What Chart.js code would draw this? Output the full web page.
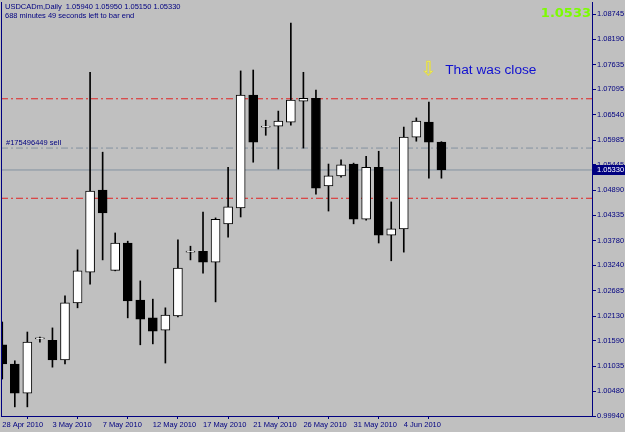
<!DOCTYPE html>
<html>
<head>
<meta charset="utf-8">
<script src="https://cdn.jsdelivr.net/npm/chart.js@4.4.0/dist/chart.umd.min.js"></script>
<style>
    html, body { margin: 0; padding: 0; background: #c0c0c0; }
    #contenedor { width: 625px; height: 432px; }
</style>
</head>
<body>
<div id="contenedor"><canvas id="graficaUsdCad" width="625" height="432"></canvas></div>
<script>
const simbolo = 'USDCADm';
const periodo = 'Daily';

// Una vela por dia (MT4 incluye las velas de domingo)
const fechas = [
    '28 Apr 2010', '29 Apr 2010', '30 Apr 2010', '2 May 2010', '3 May 2010', '4 May 2010', '5 May 2010', '6 May 2010',
    '7 May 2010', '9 May 2010', '10 May 2010', '11 May 2010', '12 May 2010', '13 May 2010', '14 May 2010', '16 May 2010',
    '17 May 2010', '18 May 2010', '19 May 2010', '20 May 2010', '21 May 2010', '23 May 2010', '24 May 2010', '25 May 2010',
    '26 May 2010', '27 May 2010', '28 May 2010', '30 May 2010', '31 May 2010', '1 Jun 2010', '2 Jun 2010', '3 Jun 2010',
    '4 Jun 2010', '6 Jun 2010', '7 Jun 2010', '8 Jun 2010'
];

const apertura = [1.0150, 1.0108, 1.0044, 1.0163, 1.0160, 1.0117, 1.0242, 1.0309, 1.0489, 1.0313, 1.0373, 1.0248,
    1.0209, 1.0182, 1.0213, 1.0353, 1.0355, 1.0331, 1.0415, 1.0450, 1.0697, 1.0627, 1.0629, 1.0638,
    1.0684, 1.0690, 1.0498, 1.0520, 1.0546, 1.0425, 1.0539, 1.0390, 1.0404, 1.0605, 1.0638, 1.0594];
const maximo = [1.0200, 1.0115, 1.0178, 1.0167, 1.0187, 1.0257, 1.0358, 1.0747, 1.0572, 1.0395, 1.0377, 1.0290,
    1.0250, 1.0231, 1.0380, 1.0366, 1.0441, 1.0428, 1.0539, 1.0750, 1.0752, 1.0642, 1.0662, 1.0855,
    1.0747, 1.0708, 1.0546, 1.0555, 1.0548, 1.0563, 1.0574, 1.0463, 1.0627, 1.0647, 1.0682, 1.0595];
const minimo = [1.0075, 1.0014, 1.0014, 1.0156, 1.0101, 1.0108, 1.0231, 1.0283, 1.0336, 1.0312, 1.0209, 1.0150,
    1.0152, 1.0110, 1.0211, 1.0336, 1.0307, 1.0244, 1.0386, 1.0430, 1.0550, 1.0609, 1.0535, 1.0631,
    1.0581, 1.0480, 1.0443, 1.0517, 1.0415, 1.0423, 1.0373, 1.0334, 1.0353, 1.0596, 1.0515, 1.0515];
const cierre = [1.0108, 1.0044, 1.0156, 1.0163, 1.0117, 1.0242, 1.0312, 1.0487, 1.0439, 1.0373, 1.0246, 1.0206,
    1.0180, 1.0215, 1.0318, 1.0353, 1.0331, 1.0425, 1.0452, 1.0697, 1.0594, 1.0627, 1.0640, 1.0686,
    1.0690, 1.0493, 1.0520, 1.0544, 1.0425, 1.0539, 1.0390, 1.0404, 1.0605, 1.0640, 1.0594, 1.0533];

// Etiquetas del eje de precios tal como las pone MT4
const etiquetasPrecio = [1.08745, 1.08190, 1.07635, 1.07095, 1.06540, 1.05985, 1.05445, 1.04890, 1.04335,
    1.03780, 1.03240, 1.02685, 1.02130, 1.01590, 1.01035, 1.00480, 0.99940];

// Niveles de la orden
const nivelStop = 1.0689;
const nivelProfit = 1.0471;
const nivelOrden = 1.0581;
const numeroOrden = '#175496449 sell';
const textoNota = 'That was close';
const posicionNota = { x: 35.3, y: 1.0752 };

const ultimo = cierre.length - 1;
const precioBid = cierre[ultimo];
const azulMT4 = '#000080';
const fuenteEje = { family: 'Liberation Sans, Arial, sans-serif', size: 7.5 };
const xMin = -0.1;
const xMax = 47;

const indices = fechas.map((f, i) => i);
const posicionesFechas = indices.filter(i => i % 4 === 0);

function colorVela(ctx) {
    const i = ctx.dataIndex;
    return cierre[i] >= apertura[i] ? '#ffffff' : '#000000';
}

function lineaNivel(valor, color, guiones) {
    return {
        type: 'line',
        data: [{ x: xMin, y: valor }, { x: xMax, y: valor }],
        borderColor: color,
        borderWidth: 1,
        borderDash: guiones,
        pointRadius: 0,
        order: 3
    };
}

const textosMT4 = {
    id: 'textosMT4',
    beforeDraw(chart) {
        const c = chart.ctx;
        c.save();
        c.fillStyle = '#c0c0c0';
        c.fillRect(0, 0, chart.width, chart.height);
        c.restore();
    },
    afterDraw(chart) {
        const c = chart.ctx;
        const area = chart.chartArea;
        const sx = chart.scales.x;
        const sy = chart.scales.y;
        c.save();

        // borde izquierdo
        c.strokeStyle = azulMT4;
        c.lineWidth = 1;
        c.beginPath();
        c.moveTo(area.left + 0.5, area.top);
        c.lineTo(area.left + 0.5, area.bottom);
        c.stroke();

        // encabezado
        c.fillStyle = azulMT4;
        c.font = '7.5px "Liberation Sans", Arial, sans-serif';
        c.textBaseline = 'middle';
        c.textAlign = 'left';
        const ohlc = [apertura[ultimo], maximo[ultimo], minimo[ultimo], cierre[ultimo]].map(v => v.toFixed(5)).join(' ');
        c.fillText(simbolo + ',' + periodo + '  ' + ohlc, 5, 7);
        c.fillText('688 minutes 49 seconds left to bar end', 5, 16);

        // etiqueta de la orden
        c.fillText(numeroOrden, 6, sy.getPixelForValue(nivelOrden) - 5);

        // precio grande
        c.fillStyle = '#7cfc00';
        c.font = 'bold 13px "DejaVu Sans", sans-serif';
        c.textAlign = 'right';
        c.fillText(precioBid.toFixed(4), area.right - 1, 14);

        // nota
        const nx = sx.getPixelForValue(posicionNota.x);
        const ny = sy.getPixelForValue(posicionNota.y);
        c.textAlign = 'left';
        c.font = '13.7px "Liberation Sans", Arial, sans-serif';
        c.fillStyle = '#1010d0';
        c.fillText(textoNota, nx, ny);
        c.font = '19px "DejaVu Sans", sans-serif';
        c.fillStyle = '#ffff70';
        c.strokeStyle = '#d8d040';
        c.lineWidth = 0.5;
        c.textAlign = 'center';
        c.fillText('\u21E9', nx - 17, ny);
        c.strokeText('\u21E9', nx - 17, ny);

        // caja del bid
        const yb = Math.round(sy.getPixelForValue(precioBid));
        c.fillStyle = azulMT4;
        c.fillRect(area.right + 1, yb - 5, chart.width - area.right - 1, 10);
        c.fillStyle = '#ffffff';
        c.font = '7.5px "Liberation Sans", Arial, sans-serif';
        c.textAlign = 'left';
        c.fillText(precioBid.toFixed(5), area.right + 5, yb);
        c.restore();
    }
};

new Chart(document.getElementById('graficaUsdCad').getContext('2d'), {
    type: 'bar',
    data: {
        datasets: [
            {
                label: 'Cuerpo',
                data: indices.map(i => ({ x: i, y: [apertura[i], cierre[i]] })),
                backgroundColor: colorVela,
                borderColor: '#000000',
                borderWidth: 1,
                borderSkipped: false,
                barThickness: 9,
                minBarLength: 1,
                grouped: false,
                order: 0
            },
            {
                label: 'Mecha',
                data: indices.map(i => ({ x: i, y: [minimo[i], maximo[i]] })),
                backgroundColor: '#000000',
                borderWidth: 0,
                barThickness: 1,
                grouped: false,
                order: 1
            },
            lineaNivel(nivelStop, '#e02424', [7, 3, 2, 3]),
            lineaNivel(nivelProfit, '#e02424', [7, 3, 2, 3]),
            lineaNivel(nivelOrden, '#8391a0', [7, 3, 2, 3]),
            lineaNivel(precioBid, '#8391a0', [])
        ]
    },
    options: {
        responsive: false,
        animation: false,
        devicePixelRatio: 1,
        layout: { padding: { left: 1, top: 2, right: 0, bottom: 0 } },
        plugins: {
            legend: { display: false },
            tooltip: { enabled: false }
        },
        scales: {
            x: {
                type: 'linear',
                min: xMin,
                max: xMax,
                offset: false,
                grid: { display: true, drawOnChartArea: false, drawTicks: true, tickLength: 3, color: azulMT4 },
                border: { display: true, color: azulMT4 },
                ticks: {
                    autoSkip: false,
                    maxRotation: 0,
                    align: 'start',
                    padding: 1,
                    color: azulMT4,
                    font: fuenteEje,
                    callback: v => fechas[v] || ''
                },
                afterBuildTicks: s => { s.ticks = posicionesFechas.map(v => ({ value: v })); },
                afterFit: s => { s.height = 16; s.paddingLeft = 0; s.paddingRight = 0; }
            },
            y: {
                position: 'right',
                min: 0.9994,
                max: 1.0901,
                grid: { display: true, drawOnChartArea: false, drawTicks: true, tickLength: 4, color: azulMT4 },
                border: { display: true, color: azulMT4 },
                ticks: {
                    padding: 1,
                    color: azulMT4,
                    font: fuenteEje,
                    callback: v => Number(v).toFixed(5)
                },
                afterBuildTicks: s => { s.ticks = etiquetasPrecio.map(v => ({ value: v })); },
                afterFit: s => { s.width = 33; s.paddingTop = 0; s.paddingBottom = 0; }
            }
        }
    },
    plugins: [textosMT4]
});
</script>
</body>
</html>
